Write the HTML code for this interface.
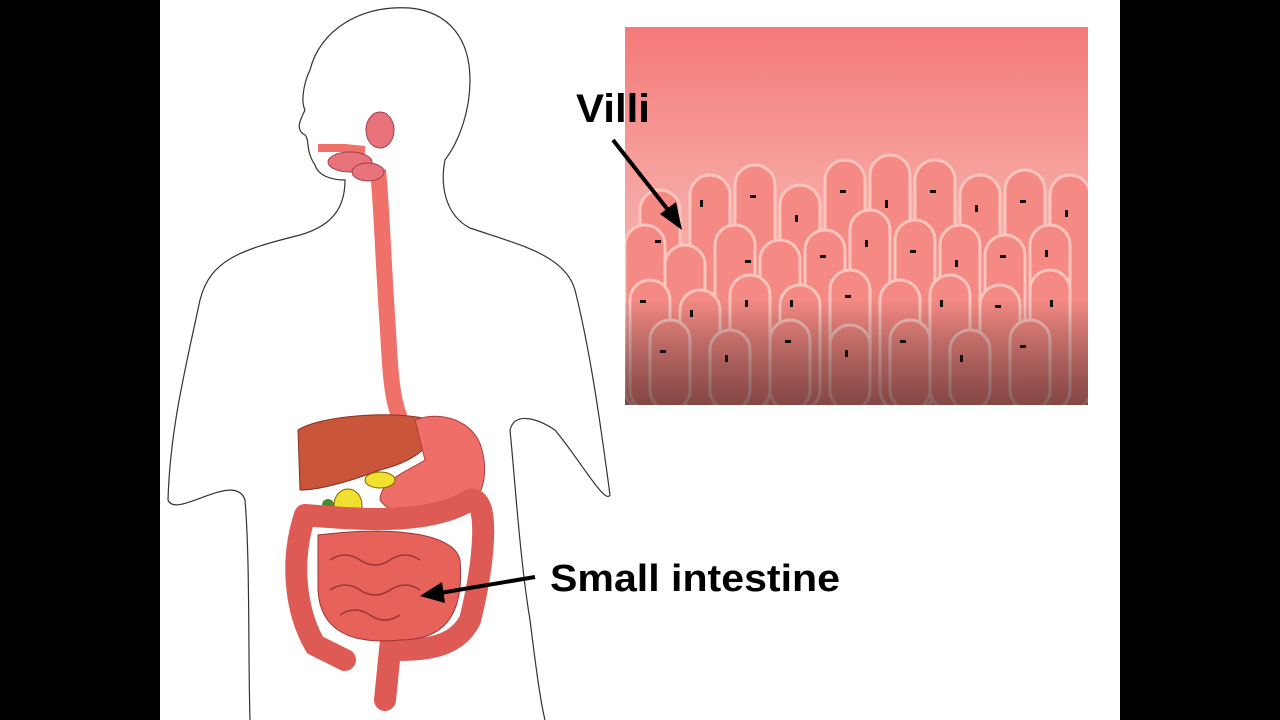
<!DOCTYPE html>
<html><head><style>
html,body{margin:0;padding:0;background:#000;}
svg{display:block}
</style></head><body>
<svg width="1280" height="720" viewBox="0 0 1280 720" xmlns="http://www.w3.org/2000/svg">
<defs>
<linearGradient id="bg" x1="0" y1="0" x2="0" y2="1">
<stop offset="0" stop-color="#f47a78"/>
<stop offset="0.45" stop-color="#f6a6a2"/>
<stop offset="0.7" stop-color="#f3b3ad"/>
<stop offset="1" stop-color="#d98a86"/>
</linearGradient>
<linearGradient id="dark" x1="0" y1="0" x2="0" y2="1">
<stop offset="0" stop-color="#000" stop-opacity="0"/>
<stop offset="0.72" stop-color="#000" stop-opacity="0"/>
<stop offset="1" stop-color="#3a1a1a" stop-opacity="0.6"/>
</linearGradient>
<clipPath id="vc"><rect x="625" y="27" width="463" height="378"/></clipPath>
</defs>
<rect x="160" y="0" width="960" height="720" fill="#fff"/>
<!-- body outline -->
<path d="M250 720 C248 650 250 560 245 500 C235 470 175 520 168 500 C170 430 185 370 200 300 C210 260 240 250 300 235 C335 225 345 205 345 180 C330 180 318 175 315 165 C305 150 310 140 305 135 C295 130 300 120 305 110 C300 100 305 80 310 70 C320 30 360 5 410 8 C450 12 470 40 470 80 C470 110 460 140 445 160 C440 185 445 215 470 228 C520 245 565 255 575 290 C590 350 600 420 610 495 C605 505 580 460 555 430 C540 420 515 410 510 430 C515 480 520 560 530 620 C535 660 540 700 545 720" fill="none" stroke="#333" stroke-width="1.2"/>
<!-- esophagus -->
<path d="M378 170 C382 210 383 260 388 330 C390 370 392 400 400 418" stroke="#f0706a" stroke-width="16" fill="none"/>
<path d="M318 148 L345 148 L365 150" stroke="#f0706a" stroke-width="8" fill="none"/>
<ellipse cx="380" cy="130" rx="14" ry="18" fill="#e9737a" stroke="#a04050"/>
<ellipse cx="350" cy="162" rx="22" ry="10" fill="#e9737a" stroke="#a04050"/>
<ellipse cx="368" cy="172" rx="16" ry="9" fill="#e9737a" stroke="#a04050"/>
<!-- liver -->
<path d="M298 430 C320 415 400 410 430 420 C440 440 420 460 380 470 C340 485 315 490 300 490 Z" fill="#c9553b" stroke="#8a3020"/>
<!-- stomach -->
<path d="M415 420 C440 410 475 420 482 450 C490 480 480 510 450 515 C420 520 390 515 380 500 C380 480 410 470 425 460 Z" fill="#ef6e67" stroke="#a84040"/>
<ellipse cx="380" cy="480" rx="15" ry="8" fill="#f0e030" stroke="#806000"/>
<ellipse cx="348" cy="505" rx="14" ry="16" fill="#f0e030" stroke="#806000"/>
<circle cx="328" cy="505" r="6" fill="#4c8a2e"/>
<!-- large intestine -->
<path d="M305 515 C290 560 295 610 315 645 L345 660 M305 515 C360 520 430 525 470 500 C490 495 485 560 470 620 C455 650 420 650 390 650 L385 700" stroke="#dd5a55" stroke-width="22" fill="none" stroke-linecap="round"/>
<!-- small intestine -->
<path d="M318 535 C400 525 455 535 460 560 C465 620 440 640 400 640 C350 645 320 630 318 590 Z" fill="#e8625c" stroke="#9a3535"/>
<path d="M330 560 q15 -10 30 0 q15 10 30 0 q15 -10 30 0 M330 590 q15 -10 30 0 q15 10 30 0 q15 -10 30 0 M340 615 q15 -10 30 0 q15 10 30 0" stroke="#9a3535" fill="none" stroke-width="1.5"/>
<!-- villi box -->
<g clip-path="url(#vc)">
<rect x="625" y="27" width="463" height="378" fill="url(#bg)"/>
<g fill="#f58a84" stroke="#fbc4bd" stroke-width="3">
<rect x="640" y="190" width="40" height="220" rx="20"/>
<rect x="690" y="175" width="40" height="235" rx="20"/>
<rect x="735" y="165" width="40" height="245" rx="20"/>
<rect x="780" y="185" width="40" height="225" rx="20"/>
<rect x="825" y="160" width="40" height="250" rx="20"/>
<rect x="870" y="155" width="40" height="255" rx="20"/>
<rect x="915" y="160" width="40" height="250" rx="20"/>
<rect x="960" y="175" width="40" height="235" rx="20"/>
<rect x="1005" y="170" width="40" height="240" rx="20"/>
<rect x="1050" y="175" width="40" height="235" rx="20"/>
<rect x="625" y="225" width="40" height="185" rx="20"/>
<rect x="665" y="245" width="40" height="165" rx="20"/>
<rect x="715" y="225" width="40" height="185" rx="20"/>
<rect x="760" y="240" width="40" height="170" rx="20"/>
<rect x="805" y="230" width="40" height="180" rx="20"/>
<rect x="850" y="210" width="40" height="200" rx="20"/>
<rect x="895" y="220" width="40" height="190" rx="20"/>
<rect x="940" y="225" width="40" height="185" rx="20"/>
<rect x="985" y="235" width="40" height="175" rx="20"/>
<rect x="1030" y="225" width="40" height="185" rx="20"/>
<rect x="630" y="280" width="40" height="130" rx="20"/>
<rect x="680" y="290" width="40" height="120" rx="20"/>
<rect x="730" y="275" width="40" height="135" rx="20"/>
<rect x="780" y="285" width="40" height="125" rx="20"/>
<rect x="830" y="270" width="40" height="140" rx="20"/>
<rect x="880" y="280" width="40" height="130" rx="20"/>
<rect x="930" y="275" width="40" height="135" rx="20"/>
<rect x="980" y="285" width="40" height="125" rx="20"/>
<rect x="1030" y="270" width="40" height="140" rx="20"/>
<rect x="650" y="320" width="40" height="90" rx="20"/>
<rect x="710" y="330" width="40" height="80" rx="20"/>
<rect x="770" y="320" width="40" height="90" rx="20"/>
<rect x="830" y="325" width="40" height="85" rx="20"/>
<rect x="890" y="320" width="40" height="90" rx="20"/>
<rect x="950" y="330" width="40" height="80" rx="20"/>
<rect x="1010" y="320" width="40" height="90" rx="20"/>
</g>
<g fill="#111">
<rect x="655" y="240" width="6" height="3"/><rect x="700" y="200" width="3" height="7"/><rect x="750" y="195" width="6" height="3"/><rect x="795" y="215" width="3" height="7"/><rect x="840" y="190" width="6" height="3"/><rect x="885" y="200" width="3" height="8"/><rect x="930" y="190" width="6" height="3"/><rect x="975" y="205" width="3" height="7"/><rect x="1020" y="200" width="6" height="3"/><rect x="1065" y="210" width="3" height="7"/>
<rect x="640" y="300" width="6" height="3"/><rect x="690" y="310" width="3" height="7"/><rect x="745" y="260" width="6" height="3"/><rect x="790" y="300" width="3" height="7"/><rect x="820" y="255" width="6" height="3"/><rect x="865" y="240" width="3" height="7"/><rect x="910" y="250" width="6" height="3"/><rect x="955" y="260" width="3" height="7"/><rect x="1000" y="255" width="6" height="3"/><rect x="1045" y="250" width="3" height="7"/>
<rect x="660" y="350" width="6" height="3"/><rect x="725" y="355" width="3" height="7"/><rect x="785" y="340" width="6" height="3"/><rect x="845" y="350" width="3" height="7"/><rect x="900" y="340" width="6" height="3"/><rect x="960" y="355" width="3" height="7"/><rect x="1020" y="345" width="6" height="3"/><rect x="745" y="300" width="3" height="7"/><rect x="845" y="295" width="6" height="3"/><rect x="940" y="300" width="3" height="7"/><rect x="995" y="305" width="6" height="3"/><rect x="1050" y="300" width="3" height="7"/>
</g>
<rect x="625" y="27" width="463" height="378" fill="url(#dark)"/>
</g>
<!-- labels & arrows -->
<text x="576" y="122" font-family="Liberation Sans, sans-serif" font-weight="bold" font-size="40" fill="#000" textLength="74" lengthAdjust="spacingAndGlyphs">Villi</text>
<line x1="613" y1="140" x2="672" y2="215" stroke="#000" stroke-width="4"/>
<polygon points="682,230 660,214 676,202" fill="#000"/>
<text x="550" y="591" font-family="Liberation Sans, sans-serif" font-weight="bold" font-size="38" fill="#000" textLength="290" lengthAdjust="spacingAndGlyphs">Small intestine</text>
<line x1="535" y1="577" x2="440" y2="593" stroke="#000" stroke-width="4"/>
<polygon points="420,596 442,582 445,603" fill="#000"/>
</svg>
</body></html>
